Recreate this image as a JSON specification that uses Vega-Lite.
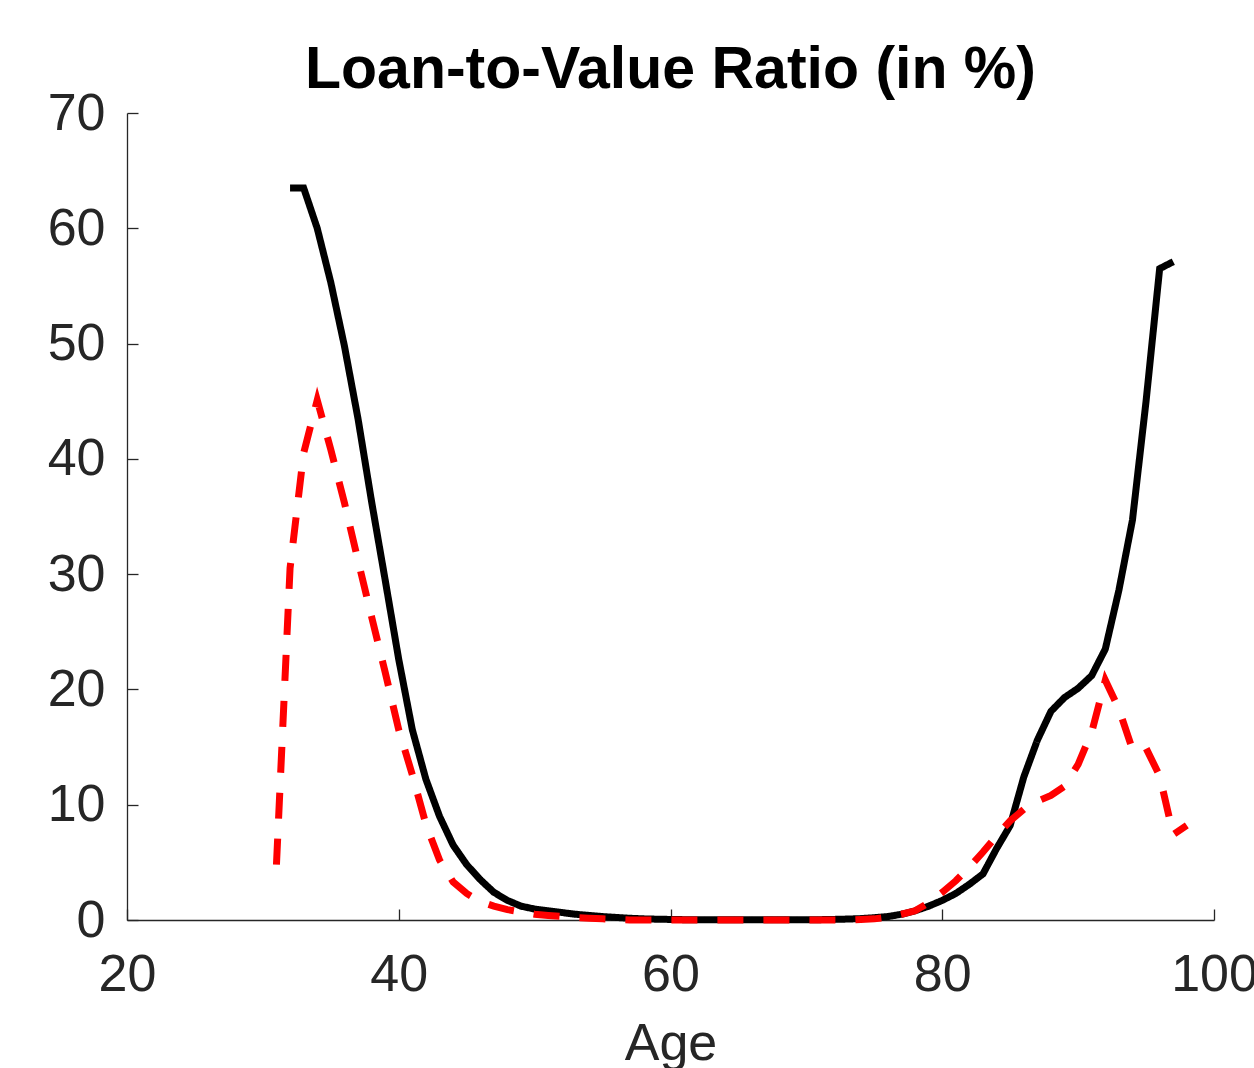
{
  "$schema": "https://vega.github.io/schema/vega-lite/v6.json",
  "autosize": "none",
  "width": 1087,
  "height": 807,
  "padding": {"left": 127, "top": 113, "right": 40, "bottom": 148},
  "background": "white",
  "title": {
    "text": "Loan-to-Value Ratio (in %)",
    "font": "Liberation Sans",
    "fontSize": 59,
    "fontWeight": "bold",
    "color": "#000000",
    "anchor": "middle",
    "offset": -13
  },
  "config": {
    "view": {"stroke": null},
    "axis": {
      "grid": false,
      "labelFont": "Liberation Sans",
      "labelFontSize": 52,
      "labelColor": "#262626",
      "titleFont": "Liberation Sans",
      "titleFontSize": 52,
      "titleFontWeight": "normal",
      "titleColor": "#262626",
      "domainColor": "#262626",
      "domainWidth": 1.3,
      "tickColor": "#262626",
      "tickWidth": 1.3,
      "tickSize": -11
    }
  },
  "data": {
    "values": [
      {"age": 32, "ltv": 63.5, "series": "A"},
      {"age": 33, "ltv": 63.5, "series": "A"},
      {"age": 34, "ltv": 60.0, "series": "A"},
      {"age": 35, "ltv": 55.3, "series": "A"},
      {"age": 36, "ltv": 49.8, "series": "A"},
      {"age": 37, "ltv": 43.5, "series": "A"},
      {"age": 38, "ltv": 36.3, "series": "A"},
      {"age": 39, "ltv": 29.5, "series": "A"},
      {"age": 40, "ltv": 22.6, "series": "A"},
      {"age": 41, "ltv": 16.5, "series": "A"},
      {"age": 42, "ltv": 12.2, "series": "A"},
      {"age": 43, "ltv": 9.0, "series": "A"},
      {"age": 44, "ltv": 6.5, "series": "A"},
      {"age": 45, "ltv": 4.8, "series": "A"},
      {"age": 46, "ltv": 3.5, "series": "A"},
      {"age": 47, "ltv": 2.4, "series": "A"},
      {"age": 48, "ltv": 1.7, "series": "A"},
      {"age": 49, "ltv": 1.2, "series": "A"},
      {"age": 50, "ltv": 0.95, "series": "A"},
      {"age": 51, "ltv": 0.8, "series": "A"},
      {"age": 52, "ltv": 0.65, "series": "A"},
      {"age": 53, "ltv": 0.5, "series": "A"},
      {"age": 54, "ltv": 0.4, "series": "A"},
      {"age": 55, "ltv": 0.3, "series": "A"},
      {"age": 56, "ltv": 0.22, "series": "A"},
      {"age": 57, "ltv": 0.15, "series": "A"},
      {"age": 58, "ltv": 0.1, "series": "A"},
      {"age": 59, "ltv": 0.07, "series": "A"},
      {"age": 60, "ltv": 0.05, "series": "A"},
      {"age": 61, "ltv": 0.03, "series": "A"},
      {"age": 62, "ltv": 0.03, "series": "A"},
      {"age": 63, "ltv": 0.03, "series": "A"},
      {"age": 64, "ltv": 0.03, "series": "A"},
      {"age": 65, "ltv": 0.03, "series": "A"},
      {"age": 66, "ltv": 0.03, "series": "A"},
      {"age": 67, "ltv": 0.03, "series": "A"},
      {"age": 68, "ltv": 0.03, "series": "A"},
      {"age": 69, "ltv": 0.03, "series": "A"},
      {"age": 70, "ltv": 0.03, "series": "A"},
      {"age": 71, "ltv": 0.03, "series": "A"},
      {"age": 72, "ltv": 0.05, "series": "A"},
      {"age": 73, "ltv": 0.08, "series": "A"},
      {"age": 74, "ltv": 0.12, "series": "A"},
      {"age": 75, "ltv": 0.2, "series": "A"},
      {"age": 76, "ltv": 0.3, "series": "A"},
      {"age": 77, "ltv": 0.5, "series": "A"},
      {"age": 78, "ltv": 0.8, "series": "A"},
      {"age": 79, "ltv": 1.2, "series": "A"},
      {"age": 80, "ltv": 1.7, "series": "A"},
      {"age": 81, "ltv": 2.3, "series": "A"},
      {"age": 82, "ltv": 3.1, "series": "A"},
      {"age": 83, "ltv": 4.0, "series": "A"},
      {"age": 84, "ltv": 6.2, "series": "A"},
      {"age": 85, "ltv": 8.2, "series": "A"},
      {"age": 86, "ltv": 12.4, "series": "A"},
      {"age": 87, "ltv": 15.6, "series": "A"},
      {"age": 88, "ltv": 18.1, "series": "A"},
      {"age": 89, "ltv": 19.3, "series": "A"},
      {"age": 90, "ltv": 20.1, "series": "A"},
      {"age": 91, "ltv": 21.2, "series": "A"},
      {"age": 92, "ltv": 23.5, "series": "A"},
      {"age": 93, "ltv": 28.6, "series": "A"},
      {"age": 94, "ltv": 34.7, "series": "A"},
      {"age": 95, "ltv": 45.0, "series": "A"},
      {"age": 96, "ltv": 56.5, "series": "A"},
      {"age": 97, "ltv": 57.1, "series": "A"},
      {"age": 31, "ltv": 4.8, "series": "B"},
      {"age": 32, "ltv": 30.5, "series": "B"},
      {"age": 33, "ltv": 40.5, "series": "B"},
      {"age": 34, "ltv": 45.1, "series": "B"},
      {"age": 35, "ltv": 40.8, "series": "B"},
      {"age": 36, "ltv": 36.2, "series": "B"},
      {"age": 37, "ltv": 31.2, "series": "B"},
      {"age": 38, "ltv": 26.3, "series": "B"},
      {"age": 39, "ltv": 21.5, "series": "B"},
      {"age": 40, "ltv": 16.5, "series": "B"},
      {"age": 41, "ltv": 12.6, "series": "B"},
      {"age": 42, "ltv": 8.3, "series": "B"},
      {"age": 43, "ltv": 5.2, "series": "B"},
      {"age": 44, "ltv": 3.3, "series": "B"},
      {"age": 45, "ltv": 2.3, "series": "B"},
      {"age": 46, "ltv": 1.6, "series": "B"},
      {"age": 47, "ltv": 1.2, "series": "B"},
      {"age": 48, "ltv": 0.9, "series": "B"},
      {"age": 49, "ltv": 0.7, "series": "B"},
      {"age": 50, "ltv": 0.5, "series": "B"},
      {"age": 51, "ltv": 0.4, "series": "B"},
      {"age": 52, "ltv": 0.3, "series": "B"},
      {"age": 53, "ltv": 0.2, "series": "B"},
      {"age": 54, "ltv": 0.15, "series": "B"},
      {"age": 55, "ltv": 0.1, "series": "B"},
      {"age": 56, "ltv": 0.05, "series": "B"},
      {"age": 57, "ltv": 0.0, "series": "B"},
      {"age": 60, "ltv": 0.0, "series": "B"},
      {"age": 65, "ltv": 0.0, "series": "B"},
      {"age": 70, "ltv": 0.0, "series": "B"},
      {"age": 73, "ltv": 0.0, "series": "B"},
      {"age": 74, "ltv": 0.05, "series": "B"},
      {"age": 75, "ltv": 0.1, "series": "B"},
      {"age": 76, "ltv": 0.25, "series": "B"},
      {"age": 77, "ltv": 0.5, "series": "B"},
      {"age": 78, "ltv": 0.8, "series": "B"},
      {"age": 79, "ltv": 1.5, "series": "B"},
      {"age": 80, "ltv": 2.4, "series": "B"},
      {"age": 81, "ltv": 3.4, "series": "B"},
      {"age": 82, "ltv": 4.6, "series": "B"},
      {"age": 83, "ltv": 5.9, "series": "B"},
      {"age": 84, "ltv": 7.3, "series": "B"},
      {"age": 85, "ltv": 8.6, "series": "B"},
      {"age": 86, "ltv": 9.6, "series": "B"},
      {"age": 87, "ltv": 10.3, "series": "B"},
      {"age": 88, "ltv": 10.8, "series": "B"},
      {"age": 89, "ltv": 11.6, "series": "B"},
      {"age": 90, "ltv": 13.5, "series": "B"},
      {"age": 91, "ltv": 16.3, "series": "B"},
      {"age": 92, "ltv": 20.8, "series": "B"},
      {"age": 93, "ltv": 18.3, "series": "B"},
      {"age": 94, "ltv": 14.8, "series": "B"},
      {"age": 95, "ltv": 14.9, "series": "B"},
      {"age": 96, "ltv": 12.5, "series": "B"},
      {"age": 97, "ltv": 7.4, "series": "B"},
      {"age": 98, "ltv": 8.2, "series": "B"}
    ]
  },
  "mark": {"type": "line", "strokeWidth": 7, "strokeCap": "butt", "strokeJoin": "miter", "clip": false},
  "encoding": {
    "x": {
      "field": "age",
      "type": "quantitative",
      "scale": {"domain": [20, 100], "nice": false, "zero": false},
      "axis": {"values": [20, 40, 60, 80, 100], "title": "Age", "labelPadding": 40, "titlePadding": 18, "labelFlush": false, "labelOverlap": false}
    },
    "y": {
      "field": "ltv",
      "type": "quantitative",
      "scale": {"domain": [0, 70], "nice": false},
      "axis": {"values": [0, 10, 20, 30, 40, 50, 60, 70], "title": null, "labelPadding": 33, "labelFlush": false, "labelOverlap": false}
    },
    "color": {
      "field": "series",
      "type": "nominal",
      "scale": {"domain": ["A", "B"], "range": ["#000000", "#FF0000"]},
      "legend": null
    },
    "strokeDash": {
      "field": "series",
      "type": "nominal",
      "scale": {"domain": ["A", "B"], "range": [[1, 0], [26, 20]]},
      "legend": null
    },
    "order": {"field": "age", "type": "quantitative"}
  }
}
